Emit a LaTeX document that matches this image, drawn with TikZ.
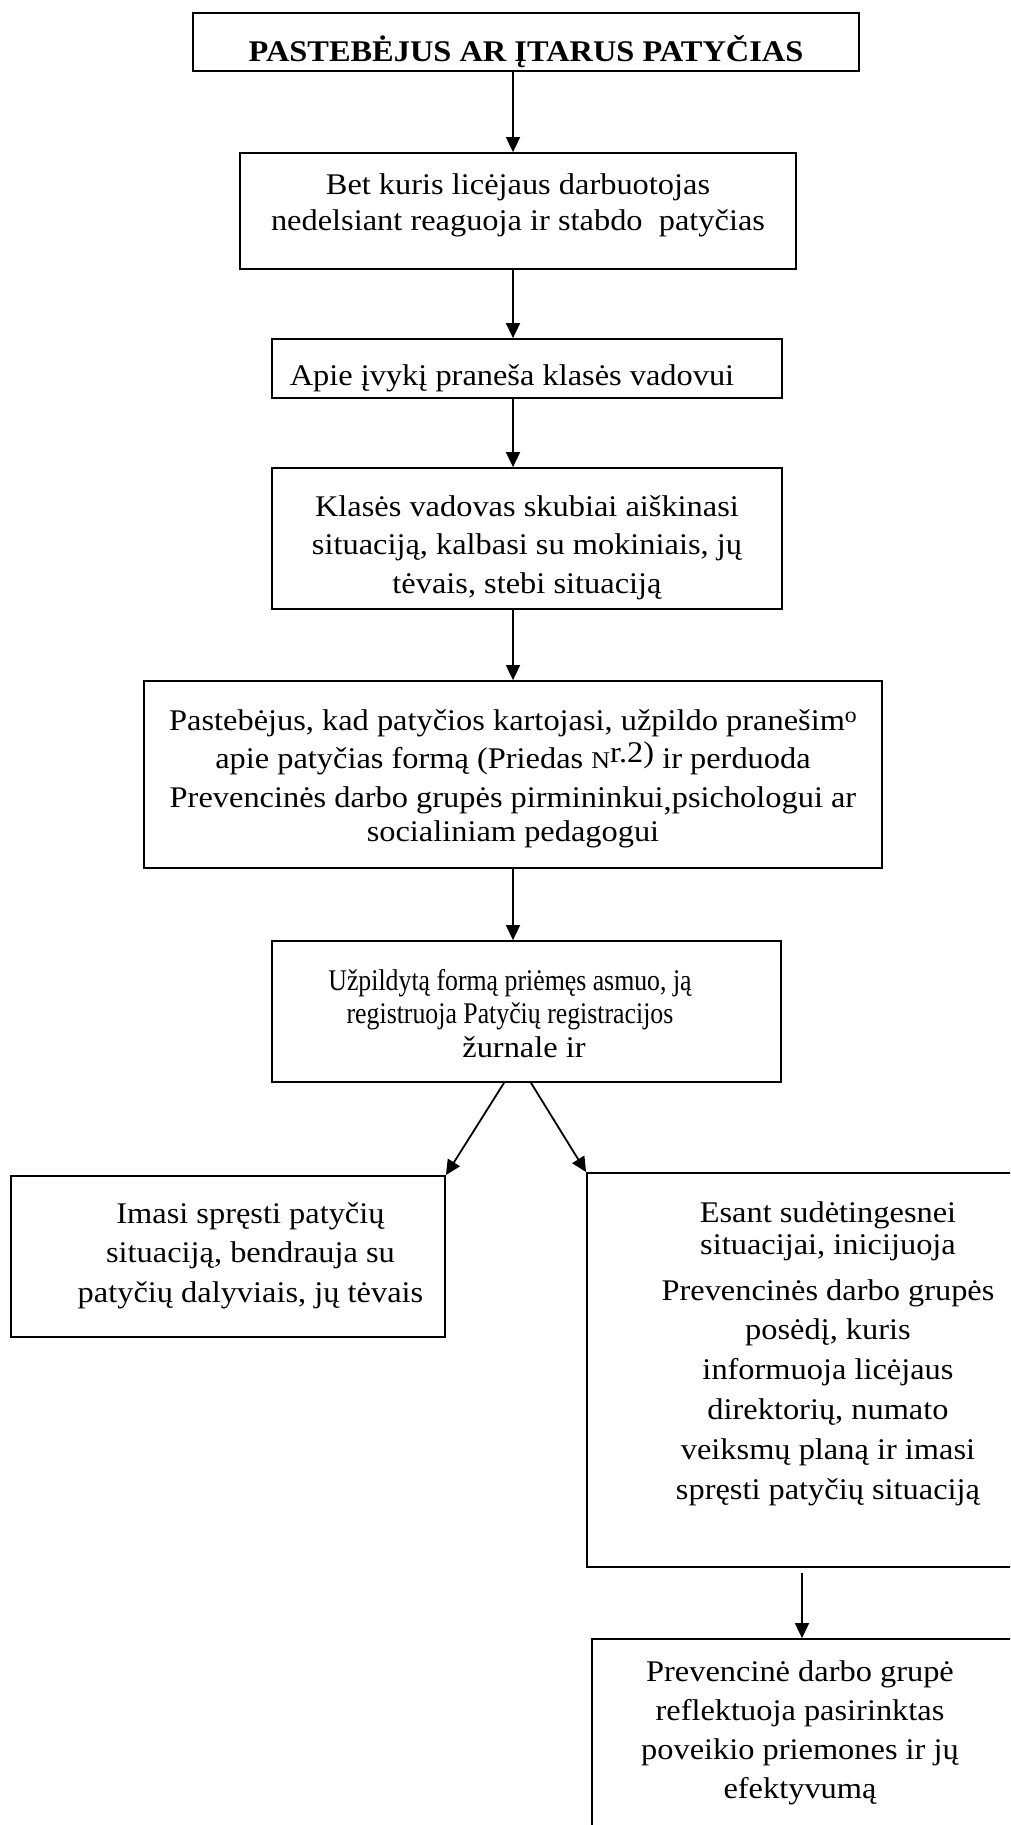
\documentclass[tikz,border=0pt]{standalone}
\usepackage{fontspec}
\setmainfont{Liberation Serif}[FakeStretch=1.08]
\newfontfamily\condfont{Liberation Serif}[FakeStretch=0.86]
\usetikzlibrary{arrows.meta}
\begin{document}
\begin{tikzpicture}[x=1pt,y=-1pt,
  box/.style={draw, line width=1.8pt, inner sep=0pt},
  txt/.style={align=center, inner sep=0pt, anchor=base, font=\fontsize{30}{#1}\selectfont},
  txt/.default=38,
  arr/.style={line width=1.8pt, -{Triangle[length=15pt,width=14pt]}}]
\useasboundingbox (0,0) rectangle (1010,1825);
\clip (0,0) rectangle (1010,1825);
\fill[white] (0,0) rectangle (1010,1825);

% boxes
\node[box, minimum width=666, minimum height=58]  (b1) at (526,42) {};
\node[box, minimum width=556, minimum height=116] (b2) at (518,211) {};
\node[box, minimum width=510, minimum height=59]  (b3) at (527,368.5) {};
\node[box, minimum width=510, minimum height=141] (b4) at (527,538.5) {};
\node[box, minimum width=738, minimum height=187] (b5) at (513,774.5) {};
\node[box, minimum width=509, minimum height=141] (b6) at (526.5,1011.5) {};
\node[box, minimum width=434, minimum height=161] (b7) at (228,1256.5) {};
\node[box, minimum width=430, minimum height=394] (b8) at (802,1370) {};
\node[box, minimum width=420, minimum height=206] (b9) at (802,1742) {};

% texts (anchor base = baseline of the last line)
\node[txt=36, font=\fontsize{30}{36}\selectfont\bfseries] (t1) at (526,62) {PASTEBĖJUS AR ĮTARUS PATYČIAS};
\node[txt=36] (t2) at (518,230) {Bet kuris licėjaus darbuotojas\\nedelsiant reaguoja ir stabdo\ \ patyčias};
\node[txt=38] (t3) at (512,385) {Apie įvykį praneša klasės vadovui};
\node[txt=38.5] (t4) at (527,593) {Klasės vadovas skubiai aiškinasi\\situaciją, kalbasi su mokiniais, jų\\tėvais, stebi situaciją};
\node[txt=38.5] (t5) at (513,841.5) {Pastebėjus, kad patyčios kartojasi, užpildo pranešim\raisebox{8pt}{\fontsize{22}{22}\selectfont o}\\
apie patyčias formą (Priedas {\fontsize{24}{24}\selectfont N}\raisebox{6pt}{r.2)} ir perduoda\\
Prevencinės darbo grupės pirmininkui\raisebox{-3pt}{,}psichologui ar\hspace*{14pt}\\[-4pt]
socialiniam pedagogui};
\node[txt=33.5, font=\condfont\fontsize{30}{33.5}\selectfont] (t6) at (510,1057) {Užpildytą formą priėmęs asmuo, ją\\registruoja Patyčių registracijos\\\hspace*{28pt}{\normalfont\fontsize{30}{33.5}\selectfont žurnale ir}};
\node[txt=39.5] (t7) at (250.5,1302) {Imasi spręsti patyčių\\situaciją, bendrauja su\\patyčių dalyviais, jų tėvais};
\node[txt=40] (t8) at (828,1499) {Esant sudėtingesnei\\[-8pt]situacijai, inicijuoja\\[6pt]Prevencinės darbo grupės\\[-1pt]posėdį, kuris\hspace*{40pt}\\informuoja licėjaus\\direktorių, numato\\veiksmų planą ir imasi\\spręsti patyčių situaciją};
\node[txt=38.7] (t9) at (800,1798) {Prevencinė darbo grupė\\reflektuoja pasirinktas\\poveikio priemones ir jų\\efektyvumą};

% connectors
\coordinate (axis) at (513,0);
\draw[arr] (b1.south -| axis) -- (b2.north -| axis);
\draw[arr] (b2.south -| axis) -- (b3.north -| axis);
\draw[arr] (b3.south -| axis) -- (b4.north -| axis);
\draw[arr] (b4.south -| axis) -- (b5.north -| axis);
\draw[arr] (b5.south -| axis) -- (b6.north -| axis);
\draw[arr] ([xshift=-22.5pt]b6.south) -- (b7.north east);
\draw[arr] ([xshift=4.5pt]b6.south) -- (b8.north west);
\draw[arr] ([yshift=-5pt]b8.south) -- (b9.north);
\end{tikzpicture}
\end{document}
